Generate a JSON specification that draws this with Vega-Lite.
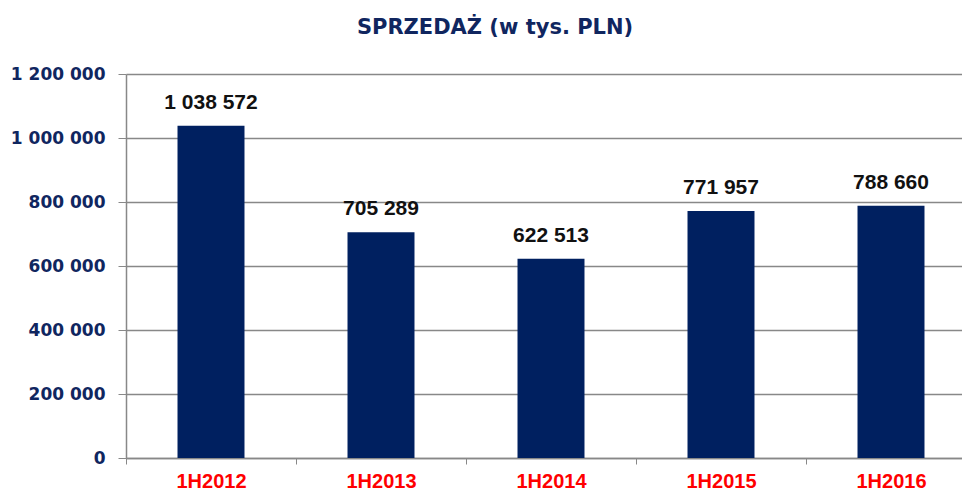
{
  "$schema": "https://vega.github.io/schema/vega-lite/v6.json",
  "autosize": "none",
  "padding": {"left": 126, "top": 74, "right": 0, "bottom": 34},
  "width": 836,
  "height": 384,
  "title": {
    "text": "SPRZEDAŻ (w tys. PLN)",
    "font": "DejaVu Sans",
    "fontSize": 21,
    "fontWeight": "bold",
    "color": "#10265f",
    "anchor": "middle",
    "frame": "group",
    "dx": -49,
    "baseline": "alphabetic",
    "offset": 10
  },
  "data": {
    "values": [
      {"period": "1H2012", "sales": 1038572},
      {"period": "1H2013", "sales": 705289},
      {"period": "1H2014", "sales": 622513},
      {"period": "1H2015", "sales": 771957},
      {"period": "1H2016", "sales": 788660}
    ]
  },
  "encoding": {
    "x": {
      "field": "period",
      "type": "nominal",
      "sort": null,
      "scale": {"range": [0, 850], "paddingInner": 0, "paddingOuter": 0},
      "axis": {
        "title": null,
        "labelAngle": 0,
        "labelFont": "Liberation Sans",
        "labelFontSize": 20,
        "labelFontWeight": "bold",
        "labelColor": "#ff0000",
        "labelPadding": 7,
        "tickBand": "extent",
        "tickSize": 6,
        "tickColor": "#888888",
        "domainColor": "#888888",
        "domainWidth": 1.5,
        "grid": false
      }
    },
    "y": {
      "field": "sales",
      "type": "quantitative",
      "scale": {"domain": [0, 1200000], "nice": false},
      "axis": {
        "title": null,
        "values": [0, 200000, 400000, 600000, 800000, 1000000, 1200000],
        "format": ",d",
        "labelFont": "DejaVu Sans",
        "labelFontSize": 17,
        "labelFontWeight": "bold",
        "labelColor": "#10265f",
        "labelPadding": 13,
        "tickSize": 8,
        "tickColor": "#888888",
        "domainColor": "#888888",
        "domainWidth": 1.5,
        "grid": true,
        "gridColor": "#888888",
        "gridWidth": 1.4
      }
    }
  },
  "layer": [
    {
      "mark": {"type": "bar", "color": "#002060", "width": {"band": 0.394}}
    },
    {
      "mark": {
        "type": "text",
        "baseline": "alphabetic",
        "dy": -17,
        "font": "Liberation Sans",
        "fontSize": 21,
        "fontWeight": "bold",
        "color": "#111111"
      },
      "encoding": {
        "text": {"field": "sales", "type": "quantitative", "format": ",d"}
      }
    }
  ],
  "config": {
    "view": {"stroke": null},
    "locale": {
      "number": {
        "decimal": ",",
        "thousands": " ",
        "grouping": [3],
        "currency": ["", " zł"]
      }
    }
  }
}
